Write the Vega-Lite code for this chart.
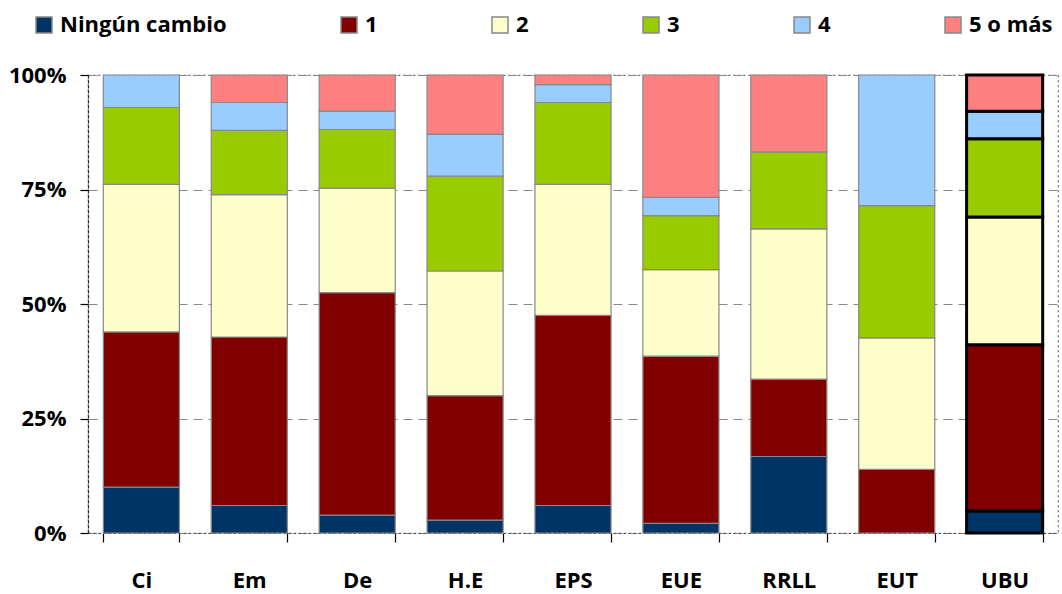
{
  "$schema": "https://vega.github.io/schema/vega-lite/v6.json",
  "autosize": {"type": "none"},
  "padding": {"left": 88, "top": 75, "right": 4, "bottom": 61},
  "width": 970,
  "height": 458,
  "background": "white",
  "config": {
    "font": "Open Sans",
    "view": {"stroke": "#666666", "strokeDash": [2, 3], "strokeWidth": 1.2}
  },
  "data": {
    "values": [
      {"c": "Ci", "k": "Ningún cambio", "o": 0, "v": 10.0},
      {"c": "Ci", "k": "1", "o": 1, "v": 33.9},
      {"c": "Ci", "k": "2", "o": 2, "v": 32.2},
      {"c": "Ci", "k": "3", "o": 3, "v": 16.8},
      {"c": "Ci", "k": "4", "o": 4, "v": 7.1},
      {"c": "Em", "k": "Ningún cambio", "o": 0, "v": 6.0},
      {"c": "Em", "k": "1", "o": 1, "v": 36.8},
      {"c": "Em", "k": "2", "o": 2, "v": 31.1},
      {"c": "Em", "k": "3", "o": 3, "v": 14.0},
      {"c": "Em", "k": "4", "o": 4, "v": 6.1},
      {"c": "Em", "k": "5 o más", "o": 5, "v": 6.0},
      {"c": "De", "k": "Ningún cambio", "o": 0, "v": 3.9},
      {"c": "De", "k": "1", "o": 1, "v": 48.6},
      {"c": "De", "k": "2", "o": 2, "v": 22.8},
      {"c": "De", "k": "3", "o": 3, "v": 12.8},
      {"c": "De", "k": "4", "o": 4, "v": 4.0},
      {"c": "De", "k": "5 o más", "o": 5, "v": 7.9},
      {"c": "H.E", "k": "Ningún cambio", "o": 0, "v": 2.8},
      {"c": "H.E", "k": "1", "o": 1, "v": 27.2},
      {"c": "H.E", "k": "2", "o": 2, "v": 27.2},
      {"c": "H.E", "k": "3", "o": 3, "v": 20.7},
      {"c": "H.E", "k": "4", "o": 4, "v": 9.2},
      {"c": "H.E", "k": "5 o más", "o": 5, "v": 12.9},
      {"c": "EPS", "k": "Ningún cambio", "o": 0, "v": 6.0},
      {"c": "EPS", "k": "1", "o": 1, "v": 41.5},
      {"c": "EPS", "k": "2", "o": 2, "v": 28.6},
      {"c": "EPS", "k": "3", "o": 3, "v": 17.9},
      {"c": "EPS", "k": "4", "o": 4, "v": 3.9},
      {"c": "EPS", "k": "5 o más", "o": 5, "v": 2.1},
      {"c": "EUE", "k": "Ningún cambio", "o": 0, "v": 2.1},
      {"c": "EUE", "k": "1", "o": 1, "v": 36.5},
      {"c": "EUE", "k": "2", "o": 2, "v": 18.9},
      {"c": "EUE", "k": "3", "o": 3, "v": 11.8},
      {"c": "EUE", "k": "4", "o": 4, "v": 4.0},
      {"c": "EUE", "k": "5 o más", "o": 5, "v": 26.7},
      {"c": "RRLL", "k": "Ningún cambio", "o": 0, "v": 16.7},
      {"c": "RRLL", "k": "1", "o": 1, "v": 16.9},
      {"c": "RRLL", "k": "2", "o": 2, "v": 32.8},
      {"c": "RRLL", "k": "3", "o": 3, "v": 16.8},
      {"c": "RRLL", "k": "5 o más", "o": 5, "v": 16.8},
      {"c": "EUT", "k": "1", "o": 1, "v": 13.9},
      {"c": "EUT", "k": "2", "o": 2, "v": 28.7},
      {"c": "EUT", "k": "3", "o": 3, "v": 28.9},
      {"c": "EUT", "k": "4", "o": 4, "v": 28.5},
      {"c": "UBU", "k": "Ningún cambio", "o": 0, "v": 4.8},
      {"c": "UBU", "k": "1", "o": 1, "v": 36.3},
      {"c": "UBU", "k": "2", "o": 2, "v": 27.9},
      {"c": "UBU", "k": "3", "o": 3, "v": 17.1},
      {"c": "UBU", "k": "4", "o": 4, "v": 6.0},
      {"c": "UBU", "k": "5 o más", "o": 5, "v": 7.9}
    ]
  },
  "mark": {"type": "bar"},
  "encoding": {
    "x": {
      "field": "c",
      "type": "nominal",
      "sort": ["Ci", "Em", "De", "H.E", "EPS", "EUE", "RRLL", "EUT", "UBU"],
      "scale": {"paddingInner": 0.295, "paddingOuter": 0.142},
      "axis": {
        "title": null,
        "labelAngle": 0,
        "labelFont": "Open Sans",
        "labelFontSize": 22,
        "labelFontWeight": "bold",
        "labelColor": "black",
        "labelPadding": 28,
        "tickBand": "extent",
        "tickSize": 9,
        "tickColor": "black",
        "tickWidth": 1.2,
        "domainColor": "#444444",
        "domainDash": [2, 3],
        "domainWidth": 1.2
      }
    },
    "y": {
      "aggregate": "sum",
      "field": "v",
      "type": "quantitative",
      "stack": "normalize",
      "scale": {"domain": [0, 1], "nice": false},
      "axis": {
        "title": null,
        "values": [0, 0.25, 0.5, 0.75, 1],
        "format": ".0%",
        "labelFont": "Open Sans",
        "labelFontSize": 22,
        "labelFontWeight": "bold",
        "labelColor": "black",
        "labelPadding": 14,
        "tickSize": 8,
        "tickColor": "black",
        "tickWidth": 1.2,
        "domainColor": "#222222",
        "domainDash": [3, 2],
        "domainWidth": 1.2,
        "grid": true,
        "gridColor": "#888888",
        "gridDash": [9, 6],
        "gridWidth": 1.2
      }
    },
    "color": {
      "field": "k",
      "type": "nominal",
      "sort": ["Ningún cambio", "1", "2", "3", "4", "5 o más"],
      "scale": {
        "domain": ["Ningún cambio", "1", "2", "3", "4", "5 o más"],
        "range": ["#003366", "#800000", "#FFFFCC", "#99CC00", "#99CCFF", "#FF8080"]
      },
      "legend": {
        "title": null,
        "orient": "none",
        "legendX": -55,
        "legendY": -61,
        "direction": "horizontal",
        "columns": 6,
        "columnPadding": 111,
        "padding": 0,
        "symbolType": "square",
        "symbolSize": 256,
        "symbolStrokeColor": "#888888",
        "symbolStrokeWidth": 1.5,
        "symbolOpacity": 1,
        "labelFont": "Open Sans",
        "labelFontSize": 22,
        "labelFontWeight": "bold",
        "labelColor": "black",
        "labelOffset": 5,
        "labelLimit": 0
      }
    },
    "order": {"field": "o", "type": "quantitative", "sort": "ascending"},
    "stroke": {
      "condition": {"test": "datum.c === 'UBU'", "value": "black"},
      "value": "#888888"
    },
    "strokeWidth": {
      "condition": {"test": "datum.c === 'UBU'", "value": 3},
      "value": 1.2
    }
  }
}
